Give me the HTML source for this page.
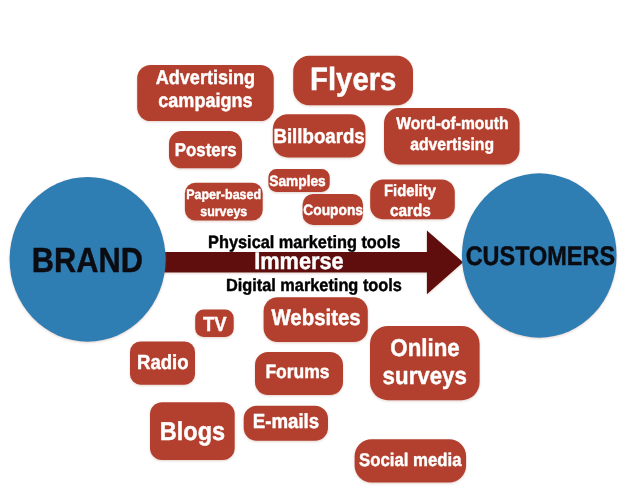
<!DOCTYPE html>
<html><head><meta charset="utf-8"><title>Marketing tools diagram</title>
<style>html,body{margin:0;padding:0;background:#fff;}body{width:619px;height:504px;overflow:hidden;}svg{display:block;}text{font-family:"Liberation Sans",sans-serif;font-weight:bold;text-rendering:geometricPrecision;stroke-width:0.4px;stroke-linejoin:round;}svg{will-change:transform;}</style></head><body>
<svg width="619" height="504" viewBox="0 0 619 504">
<defs><filter id="sh" x="-10%" y="-10%" width="120%" height="130%"><feGaussianBlur in="SourceAlpha" stdDeviation="0.8"/><feOffset dx="0" dy="0.6"/><feColorMatrix type="matrix" values="0 0 0 0 0.35  0 0 0 0 0.15  0 0 0 0 0.1  0 0 0 0.3 0"/><feMerge><feMergeNode/><feMergeNode in="SourceGraphic"/></feMerge></filter></defs>
<polygon filter="url(#sh)" fill="#5e080a" points="150.0,252.0 426.9,252.0 426.9,230.5 463.2,262.2 426.9,294.3 426.9,272.4 150.0,272.4"/>
<ellipse filter="url(#sh)" cx="87.60" cy="259.35" rx="78.00" ry="82.35" fill="#2d7eb3"/>
<ellipse filter="url(#sh)" cx="539.25" cy="255.50" rx="77.35" ry="82.20" fill="#2d7eb3"/>
<g filter="url(#sh)" fill="#b3402e">
<rect x="137.2" y="64.9" width="136.5" height="56.2" rx="13.5"/>
<rect x="293.2" y="55.7" width="119.8" height="49.6" rx="16.0"/>
<rect x="169.0" y="131.0" width="73.0" height="37.3" rx="12.5"/>
<rect x="272.8" y="114.2" width="92.6" height="43.2" rx="15.0"/>
<rect x="384.0" y="108.0" width="135.6" height="56.4" rx="15.0"/>
<rect x="268.4" y="169.1" width="61.3" height="22.8" rx="8.0"/>
<rect x="184.9" y="182.7" width="77.8" height="37.8" rx="10.5"/>
<rect x="302.6" y="194.0" width="60.4" height="30.9" rx="10.5"/>
<rect x="370.2" y="179.4" width="84.6" height="39.8" rx="13.0"/>
<rect x="195.2" y="309.4" width="38.5" height="27.6" rx="8.5"/>
<rect x="263.6" y="297.2" width="104.2" height="44.8" rx="14.0"/>
<rect x="130.0" y="341.4" width="65.0" height="43.3" rx="10.5"/>
<rect x="255.0" y="352.0" width="88.0" height="43.0" rx="13.0"/>
<rect x="370.0" y="326.0" width="109.6" height="74.2" rx="18.0"/>
<rect x="150.0" y="402.3" width="84.7" height="57.6" rx="12.0"/>
<rect x="243.7" y="405.8" width="84.3" height="34.9" rx="13.0"/>
<rect x="354.6" y="439.3" width="111.5" height="43.3" rx="17.0"/>
</g>
<g>
<text transform="translate(155.75 84.20) scale(1.0000 1.1000)" font-size="18.06" fill="#fff" stroke="#fff" textLength="99.36" lengthAdjust="spacingAndGlyphs">Advertising</text>
<text transform="translate(158.30 107.30) scale(1.0000 1.1000)" font-size="18.04" fill="#fff" stroke="#fff" textLength="94.25" lengthAdjust="spacingAndGlyphs">campaigns</text>
<text transform="translate(310.04 89.90) scale(1.0000 1.1000)" font-size="29.32" fill="#fff" stroke="#fff" textLength="86.37" lengthAdjust="spacingAndGlyphs">Flyers</text>
<text transform="translate(174.67 156.00) scale(1.0000 1.1000)" font-size="16.88" fill="#fff" stroke="#fff" textLength="61.93" lengthAdjust="spacingAndGlyphs">Posters</text>
<text transform="translate(273.45 142.70) scale(1.0000 1.1000)" font-size="18.67" fill="#fff" stroke="#fff" textLength="91.31" lengthAdjust="spacingAndGlyphs">Billboards</text>
<text transform="translate(396.18 129.30) scale(1.0000 1.1000)" font-size="15.61" fill="#fff" stroke="#fff" textLength="112.39" lengthAdjust="spacingAndGlyphs">Word-of-mouth</text>
<text transform="translate(410.14 150.10) scale(1.0000 1.1000)" font-size="15.73" fill="#fff" stroke="#fff" textLength="83.91" lengthAdjust="spacingAndGlyphs">advertising</text>
<text transform="translate(269.30 185.70) scale(1.0000 1.1000)" font-size="13.73" fill="#fff" stroke="#fff" textLength="56.46" lengthAdjust="spacingAndGlyphs">Samples</text>
<text transform="translate(186.16 199.40) scale(1.0000 1.1000)" font-size="12.49" fill="#fff" stroke="#fff" textLength="74.95" lengthAdjust="spacingAndGlyphs">Paper-based</text>
<text transform="translate(200.26 216.10) scale(1.0000 1.1000)" font-size="12.44" fill="#fff" stroke="#fff" textLength="47.04" lengthAdjust="spacingAndGlyphs">surveys</text>
<text transform="translate(303.34 214.50) scale(1.0000 1.1000)" font-size="13.76" fill="#fff" stroke="#fff" textLength="59.64" lengthAdjust="spacingAndGlyphs">Coupons</text>
<text transform="translate(384.01 195.50) scale(1.0000 1.1000)" font-size="14.82" fill="#fff" stroke="#fff" textLength="51.87" lengthAdjust="spacingAndGlyphs">Fidelity</text>
<text transform="translate(389.90 216.00) scale(1.0000 1.1000)" font-size="15.34" fill="#fff" stroke="#fff" textLength="40.93" lengthAdjust="spacingAndGlyphs">cards</text>
<text transform="translate(202.90 330.90) scale(1.0000 1.1000)" font-size="18.41" fill="#fff" stroke="#fff" textLength="23.53" lengthAdjust="spacingAndGlyphs">TV</text>
<text transform="translate(271.48 325.30) scale(1.0000 1.1000)" font-size="20.39" fill="#fff" stroke="#fff" textLength="89.16" lengthAdjust="spacingAndGlyphs">Websites</text>
<text transform="translate(137.06 368.70) scale(1.0000 1.1000)" font-size="18.56" fill="#fff" stroke="#fff" textLength="51.56" lengthAdjust="spacingAndGlyphs">Radio</text>
<text transform="translate(265.43 378.40) scale(1.0000 1.1000)" font-size="17.50" fill="#fff" stroke="#fff" textLength="64.19" lengthAdjust="spacingAndGlyphs">Forums</text>
<text transform="translate(390.29 355.70) scale(1.0000 1.1000)" font-size="22.30" fill="#fff" stroke="#fff" textLength="69.38" lengthAdjust="spacingAndGlyphs">Online</text>
<text transform="translate(382.62 384.20) scale(1.0000 1.1000)" font-size="22.29" fill="#fff" stroke="#fff" textLength="84.29" lengthAdjust="spacingAndGlyphs">surveys</text>
<text transform="translate(159.82 439.80) scale(1.0000 1.1000)" font-size="23.52" fill="#fff" stroke="#fff" textLength="65.34" lengthAdjust="spacingAndGlyphs">Blogs</text>
<text transform="translate(252.75 427.90) scale(1.0000 1.1000)" font-size="18.67" fill="#fff" stroke="#fff" textLength="66.42" lengthAdjust="spacingAndGlyphs">E-mails</text>
<text transform="translate(359.01 466.30) scale(1.0000 1.1000)" font-size="16.76" fill="#fff" stroke="#fff" textLength="102.48" lengthAdjust="spacingAndGlyphs">Social media</text>
<text transform="translate(31.84 271.80) scale(1.0000 1.1300)" font-size="30.78" fill="#0b0b12" stroke="#0b0b12" textLength="111.15" lengthAdjust="spacingAndGlyphs">BRAND</text>
<text transform="translate(465.64 264.80) scale(1.0000 1.1500)" font-size="23.45" fill="#0b0b12" stroke="#0b0b12" textLength="149.38" lengthAdjust="spacingAndGlyphs">CUSTOMERS</text>
<text transform="translate(208.11 247.70) scale(1.0000 1.0900)" font-size="16.32" fill="#000" stroke="#000" textLength="192.26" lengthAdjust="spacingAndGlyphs">Physical marketing tools</text>
<text transform="translate(254.24 269.10) scale(1.0000 1.1000)" font-size="21.75" fill="#fff" stroke="#fff" textLength="89.49" lengthAdjust="spacingAndGlyphs">Immerse</text>
<text transform="translate(225.91 290.80) scale(1.0000 1.0800)" font-size="16.32" fill="#000" stroke="#000" textLength="175.97" lengthAdjust="spacingAndGlyphs">Digital marketing tools</text>
</g>
</svg></body></html>
